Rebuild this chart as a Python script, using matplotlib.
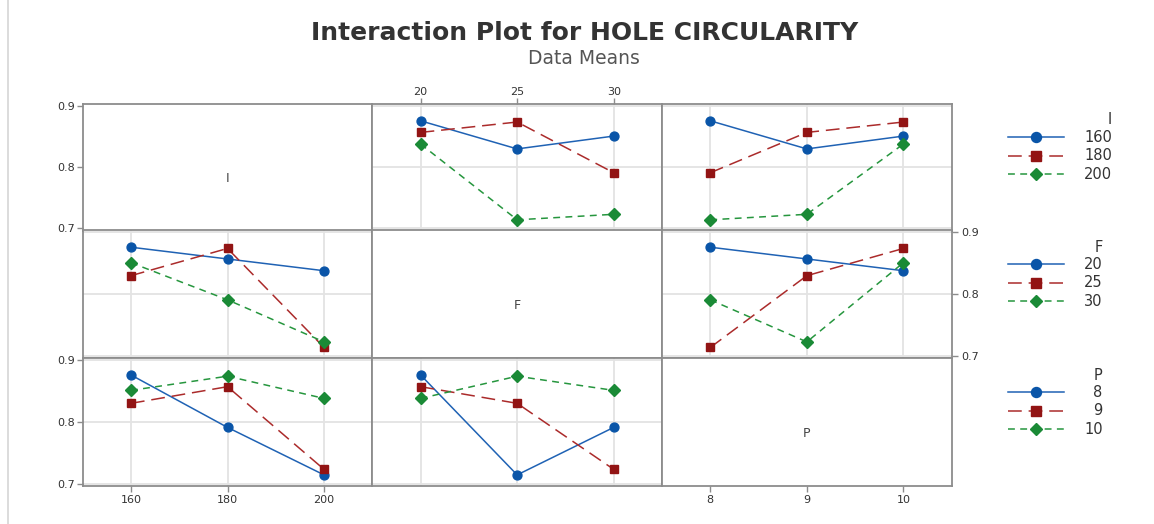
import matplotlib
matplotlib.use("Agg")
import matplotlib.pyplot as plt
from matplotlib.lines import Line2D
import pandas as pd

plt.rcParams['font.family'] = ['DejaVu Sans']

# L9 experiment runs: current I, feed F, pulse P and measured circularity
current_I = [160, 160, 160, 180, 180, 180, 200, 200, 200]
feed_F = [20, 25, 30, 20, 25, 30, 20, 25, 30]
pulse_P = [8, 9, 10, 9, 10, 8, 10, 8, 9]
circularity = [0.876, 0.830, 0.851, 0.857, 0.874, 0.791, 0.838, 0.714, 0.723]

factor_names = ['I', 'F', 'P']
levels_I = [160, 180, 200]
levels_F = [20, 25, 30]
levels_P = [8, 9, 10]
y_ticks = [0.7, 0.8, 0.9]

response = 'HOLE CIRCULARITY'
df = pd.DataFrame({'I': current_I, 'F': feed_F, 'P': pulse_P, response: circularity})
levels = {'I': levels_I, 'F': levels_F, 'P': levels_P}

W, H = 1154, 524
fig = plt.figure(figsize=(W / 100, H / 100), dpi=100)
fig.patch.set_facecolor('white')

col_edges = [82.7, 372.3, 662.0, 951.7]
row_edges = [104.3, 230.5, 358.3, 485.7]
ylim = (0.6965, 0.903)

series_styles = [
    dict(color='#1f62b4', mcolor='#0a55a8', ls='-', marker='o', ms=6.4),
    dict(color='#ab2b2b', mcolor='#921414', ls=(0, (9, 4.5)), marker='s', ms=6.2),
    dict(color='#26963e', mcolor='#1a8a36', ls=(0, (4.5, 3.5)), marker='D', ms=5.8),
]

frame_col = '#8c8c8c'
grid_col = '#e3e3e3'
text_col = '#333333'
tick_kw = dict(length=4, width=1, color=frame_col, labelsize=8, labelcolor=text_col)

for i, rf in enumerate(factor_names):
    for j, cf in enumerate(factor_names):
        x0, x1 = col_edges[j], col_edges[j + 1]
        y0, y1 = row_edges[i], row_edges[i + 1]
        ax = fig.add_axes([x0 / W, 1 - y1 / H, (x1 - x0) / W, (y1 - y0) / H])
        lv = levels[cf]
        half = (lv[1] - lv[0]) / 2
        ax.set_xlim(lv[0] - half, lv[-1] + half)
        ax.set_ylim(*ylim)
        ax.set_xticks(lv)
        ax.set_yticks(y_ticks)
        for s in ax.spines.values():
            s.set_color(frame_col)
            s.set_linewidth(1.3)
        ax.tick_params(axis='both', which='both', left=False, right=False, top=False,
                       bottom=False, labelleft=False, labelright=False,
                       labeltop=False, labelbottom=False)

        if i == j:
            ax.text(0.5, 0.41, rf, transform=ax.transAxes, ha='center', va='center',
                    fontsize=9, color='#444444')
        else:
            ax.grid(True, color=grid_col, lw=1.3)
            ax.set_axisbelow(True)
            for k, lvl in enumerate(levels[rf]):
                st = series_styles[k]
                means = df[df[rf] == lvl].groupby(cf)[response].mean()
                ax.plot(means.index, means.values, color=st['color'], ls=st['ls'],
                        lw=1.1, marker=st['marker'], ms=st['ms'],
                        mfc=st['mcolor'], mec=st['mcolor'], zorder=3 + k)

        # alternating axis labels around the matrix
        if j == 0 and i in (0, 2):
            ax.tick_params(axis='y', left=True, labelleft=True, pad=1.5, **tick_kw)
        if j == 2 and i == 1:
            ax.tick_params(axis='y', right=True, labelright=True, pad=3, **tick_kw)
        if i == 0 and j == 1:
            ax.tick_params(axis='x', top=True, labeltop=True, pad=1, **tick_kw)
        if i == 2 and j in (0, 2):
            ax.tick_params(axis='x', bottom=True, labelbottom=True, pad=3, **tick_kw)

# titles
fig.text(585 / W, 1 - 33 / H, 'Interaction Plot for HOLE CIRCULARITY', ha='center',
         va='center', fontsize=18, fontweight='bold', color=text_col)
fig.text(584 / W, 1 - 58 / H, 'Data Means', ha='center', va='center',
         fontsize=13.5, color='#555555')

# legends, one block per factor
legend_title_y = [120, 247, 375]
legend_row_gap = 18.4
handle_x = (1008, 1064)
marker_x = 1036
label_left = 1084
legend_fs = 10.5
renderer = fig.canvas.get_renderer()
for b, fname in enumerate(factor_names):
    labels = [str(v) for v in levels[fname]]
    widest = max(labels, key=len)
    probe = fig.text(label_left / W, 0.5, widest, fontsize=legend_fs)
    right = label_left + probe.get_window_extent(renderer).width
    probe.remove()
    ty = legend_title_y[b]
    fig.text(right / W, 1 - ty / H, fname, ha='right', va='center', fontsize=legend_fs,
             color=text_col)
    for k, lab in enumerate(labels):
        st = series_styles[k]
        yy = 1 - (ty + legend_row_gap * (k + 0.95)) / H
        fig.add_artist(Line2D([handle_x[0] / W, handle_x[1] / W], [yy, yy],
                              color=st['color'], ls=st['ls'], lw=1.1,
                              transform=fig.transFigure))
        fig.add_artist(Line2D([marker_x / W], [yy], marker=st['marker'], ms=st['ms'] + 0.8,
                              mfc=st['mcolor'], mec=st['mcolor'], ls='none',
                              transform=fig.transFigure))
        fig.text(right / W, yy, lab, ha='right', va='center', fontsize=legend_fs,
                 color=text_col)

# thin outer border at the left
fig.add_artist(Line2D([7.5 / W, 7.5 / W], [0, 1], color='#d6d6d6', lw=1.2,
                      transform=fig.transFigure))

fig.savefig('out.png', dpi=100)
